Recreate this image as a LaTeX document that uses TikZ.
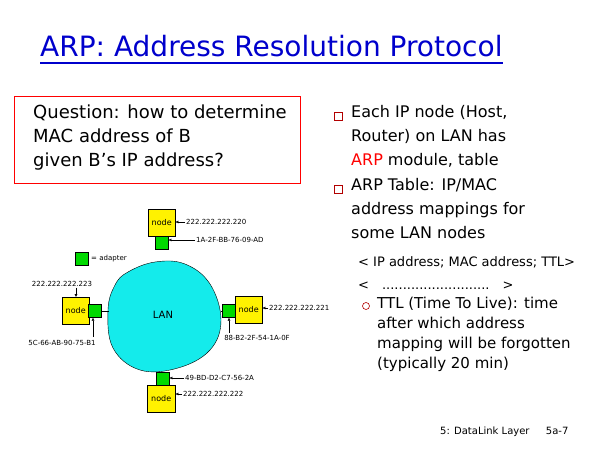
\documentclass[tikz,border=0pt]{standalone}
\usepackage{fontspec}
\setmainfont{DejaVu Sans}
\usetikzlibrary{arrows.meta}
\definecolor{lancyan}{RGB}{20,235,235}
\begin{document}
\begin{tikzpicture}[x=1pt,y=-1pt,
  yel/.style={draw,fill=yellow,minimum width=27pt,minimum height=27pt,inner sep=0pt,font=\fontsize{8}{9}\selectfont},
  grn/.style={draw,fill=green!85!black,minimum width=13pt,minimum height=13pt,inner sep=0pt},
  sm/.style={font=\fontsize{7}{8}\selectfont,inner sep=1pt},
  big/.style={font=\fontsize{18}{24}\selectfont,align=left,anchor=north west,inner sep=0pt},
  bsq/.style={draw=red!70!black,minimum width=8pt,minimum height=8pt,inner sep=0pt,line width=0.6pt},
  bci/.style={circle,draw=red!70!black,minimum size=7pt,inner sep=0pt,line width=0.6pt},
  arr/.style={-{Latex[length=3pt,width=3pt]}}]
\useasboundingbox (0,0) rectangle (600,450);
\node[anchor=base west,text=blue!80!black,font=\fontsize{28}{30}\selectfont,inner sep=0pt] (title) at (40,56) {ARP: Address Resolution Protocol};
\draw[blue!80!black,line width=1.2pt] (40,63) -- (title.east|-0,63);
\node[draw=red,line width=1pt,minimum width=286pt,minimum height=87pt,anchor=north west] (q) at (14,96) {};
\node[big] (qt) at (33,105) {Question: how to determine\\MAC address of B\\given B’s IP address?};
\node[bsq] (b1) at (338,116) {};
\node[bsq] (b2) at (338,189) {};
\node[big,font=\fontsize{16}{24.3}\selectfont] (t1) at (351,105) {Each IP node (Host,\\Router) on LAN has\\\textcolor{red}{ARP} module, table};
\node[big,font=\fontsize{16}{24.3}\selectfont] (t2) at (351,178) {ARP Table: IP/MAC\\address mappings for\\some LAN nodes};
\node[anchor=west,font=\fontsize{13}{14}\selectfont,inner sep=0pt] (f1) at (358,262) {< IP address; MAC address; TTL>};
\node[anchor=west,font=\fontsize{13}{14}\selectfont,inner sep=0pt] (f2) at (358,286) {<\quad  ..........................\quad  >};
\node[bci] (b3) at (366,306) {};
\node[big,font=\fontsize{15}{20}\selectfont] (t3) at (377,297) {TTL (Time To Live): time\\after which address\\mapping will be forgotten\\(typically 20 min)};
\node[anchor=west,font=\fontsize{10}{10}\selectfont,inner sep=0pt] (ft) at (440,432) {5: DataLink Layer\quad\ \ 5a-7};
% LAN
\draw[fill=lancyan] plot[smooth cycle,tension=0.65] coordinates {(128,272) (155,262) (185,264) (210,284) (221,320) (210,350) (178,368) (140,370) (113,348) (108,310) (115,285)};
\node[font=\fontsize{10}{10}\selectfont] (lan) at (163,315) {LAN};
% top
\node[yel,anchor=north west] (nt) at (148,209) {node};
\node[grn,anchor=north] (gt) at (nt.south) {};
\node[sm,anchor=west] (it) at (185,222) {222.222.222.220};
\node[sm,anchor=west] (mt) at (195,240) {1A-2F-BB-76-09-AD};
\draw[arr] (it.west) -- (nt.east|-it.west);
\draw[arr] (mt.west) -- (gt.east|-mt.west);
% legend
\node[grn] (lg) at (82,259) {};
\node[sm,anchor=west] (lgt) at (90,259) {= adapter};
% left
\node[yel,anchor=north west] (nl) at (62,297) {node};
\node[grn,anchor=west] (gl) at (88,311) {};
\draw (gl.east) -- (109,311);
\node[sm] (il) at (62,284) {222.222.222.223};
\draw[arr] (il.south-|76,0) -- (nl.north-|76,0);
\node[sm] (ml) at (62,343) {5C-66-AB-90-75-B1};
\draw[arr] (93,337) -- (gl.south-|93,0);
% right
\node[yel,anchor=north west] (nr) at (235,296) {node};
\node[grn,anchor=east] (gr) at (235,311) {};
\draw (gr.west) -- (221,311);
\node[sm,anchor=west] (ir) at (268,308) {222.222.222.221};
\draw[arr] (ir.west) -- (nr.east|-ir.west);
\node[sm] (mr) at (257,338) {88-B2-2F-54-1A-0F};
\draw[arr] (229,333) -- (gr.south-|229,0);
% bottom
\node[grn,anchor=north west] (gb) at (156,372) {};
\node[yel,anchor=north west,minimum width=28pt] (nb) at (147,385) {node};
\node[sm,anchor=west] (mb) at (184,378) {49-BD-D2-C7-56-2A};
\draw[arr] (mb.west) -- (gb.east|-mb.west);
\node[sm,anchor=west] (ib) at (182,394) {222.222.222.222};
\draw[arr] (ib.west) -- (nb.east|-ib.west);
\end{tikzpicture}
\end{document}
